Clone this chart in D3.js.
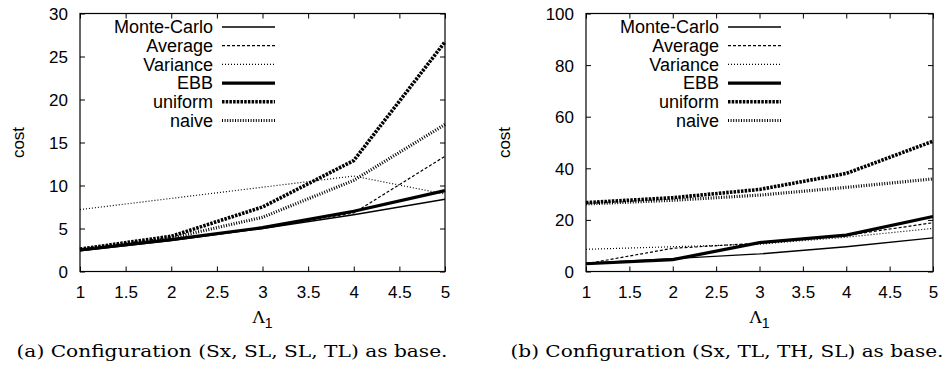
<!DOCTYPE html>
<html>
<head>
    <meta charset="UTF-8">
    <title>cost vs lambda</title>
    <script src="https://cdn.jsdelivr.net/npm/d3@7"></script>
    <style>
        body { margin: 0; background: #fff; }
    </style>
</head>
<body>
    <script>
        // data
        var lambda = [1, 2, 3, 4, 5]
        var xTicks = [1, 1.5, 2, 2.5, 3, 3.5, 4, 4.5, 5]
        var seriesNames = ['Monte-Carlo', 'Average', 'Variance', 'EBB', 'uniform', 'naive']

        // panel (a)
        var aMonteCarlo = [2.4, 3.6, 5.0, 6.6, 8.4]
        var aAverage    = [2.5, 3.7, 5.1, 6.8, 13.4]
        var aVariance   = [7.2, 8.5, 9.8, 11.1, 9.0]
        var aEBB        = [2.5, 3.7, 5.1, 7.0, 9.4]
        var aUniform    = [2.6, 4.1, 7.5, 12.9, 26.7]
        var aNaive      = [2.5, 3.9, 6.3, 10.6, 17.1]
        var aYTicks = [0, 5, 10, 15, 20, 25, 30]

        // panel (b)
        var bMonteCarlo = [3.2, 5.0, 6.8, 9.6, 13.0]
        var bAverage    = [3.0, 9.0, 11.0, 14.0, 18.9]
        var bVariance   = [8.6, 9.6, 10.6, 13.3, 16.7]
        var bEBB        = [3.0, 4.6, 11.2, 14.1, 21.3]
        var bUniform    = [26.7, 28.6, 31.8, 38.0, 50.5]
        var bNaive      = [26.2, 27.6, 29.6, 32.6, 35.9]
        var bYTicks = [0, 20, 40, 60, 80, 100]

        var styles = [
            { w: 1.3, dash: null },
            { w: 1.2, dash: '3,2' },
            { w: 1.2, dash: '1,2' },
            { w: 3.2, dash: null },
            { w: 3.6, dash: '2.5,1.2' },
            { w: 3.2, dash: '1,1.6' }
        ]

        var sans = '"Liberation Sans", Arial, sans-serif'
        var serif = '"DejaVu Serif", "Liberation Serif", serif'

        var svg = d3.select('body')
            .append('svg')
            .attr('width', 946)
            .attr('height', 366)
            .attr('font-family', sans)

        function panel(o) {
            var x = d3.scaleLinear().domain([1, 5]).range([o.left, o.right])
            var y = d3.scaleLinear().domain([0, o.ymax]).range([o.bottom, o.top])
            var g = svg.append('g')

            // mirror ticks, pointing inward
            g.append('g').attr('transform', 'translate(0,' + o.top + ')')
                .call(d3.axisTop(x).tickValues(xTicks).tickSize(-5).tickFormat(''))
            g.append('g').attr('transform', 'translate(' + o.right + ',0)')
                .call(d3.axisRight(y).tickValues(o.yTicks).tickSize(-5).tickFormat(''))

            var xa = g.append('g').attr('transform', 'translate(0,' + o.bottom + ')')
                .call(d3.axisBottom(x).tickValues(xTicks).tickSize(-5).tickPadding(14).tickFormat(d3.format('')))
            var ya = g.append('g').attr('transform', 'translate(' + o.left + ',0)')
                .call(d3.axisLeft(y).tickValues(o.yTicks).tickSize(-5).tickPadding(12))

            g.selectAll('.domain').remove()
            g.selectAll('.tick line').attr('stroke', '#000').attr('stroke-width', 1)
            g.selectAll('.tick text').attr('font-size', 17).attr('fill', '#000')
                .attr('font-family', sans)
            xa.selectAll('.tick text').attr('dy', '0.71em')
            ya.selectAll('.tick text').attr('dy', '0.35em')

            g.append('rect')
                .attr('x', o.left).attr('y', o.top)
                .attr('width', o.right - o.left).attr('height', o.bottom - o.top)
                .attr('fill', 'none').attr('stroke', '#000').attr('stroke-width', 1.2)

            var line = d3.line()
                .x(function(d, i){ return x(lambda[i]) })
                .y(function(d){ return y(d) })

            o.series.forEach(function(s, i){
                g.append('path')
                    .attr('d', line(s))
                    .attr('fill', 'none')
                    .attr('stroke', '#000')
                    .attr('stroke-width', styles[i].w)
                    .attr('stroke-dasharray', styles[i].dash)
            })

            // legend
            seriesNames.forEach(function(name, i){
                var ly = 27 + i * 18.7
                g.append('text')
                    .attr('x', o.legX).attr('y', ly)
                    .attr('dy', '0.35em')
                    .attr('text-anchor', 'end')
                    .attr('font-size', 18)
                    .text(name)
                g.append('line')
                    .attr('x1', o.legX + 9).attr('x2', o.legX + 62)
                    .attr('y1', ly).attr('y2', ly)
                    .attr('stroke', '#000')
                    .attr('stroke-width', styles[i].w)
                    .attr('stroke-dasharray', styles[i].dash)
            })

            g.append('text')
                .attr('transform', 'translate(' + o.costX + ',' + (o.top + o.bottom) / 2 + ') rotate(-90)')
                .attr('text-anchor', 'middle')
                .attr('font-size', 17)
                .text('cost')

            var lam = g.append('text')
                .attr('x', (o.left + o.right) / 2).attr('y', 323)
                .attr('text-anchor', 'middle')
            lam.append('tspan')
                .attr('font-family', serif)
                .attr('font-size', 17)
                .text('Λ')
            lam.append('tspan')
                .attr('font-size', 14)
                .attr('dy', 5)
                .text('1')

            g.append('text')
                .attr('x', o.capX).attr('y', 357)
                .attr('text-anchor', 'middle')
                .attr('font-family', serif)
                .attr('font-size', 17)
                .attr('textLength', o.capW)
                .attr('lengthAdjust', 'spacingAndGlyphs')
                .text(o.caption)
        }

        panel({
            left: 80, right: 445, top: 13.5, bottom: 271.5, ymax: 30,
            yTicks: aYTicks, legX: 213, costX: 24, capX: 232, capW: 431,
            series: [aMonteCarlo, aAverage, aVariance, aEBB, aUniform, aNaive],
            caption: '(a) Configuration (Sx, SL, SL, TL) as base.'
        })
        panel({
            left: 586, right: 933, top: 13.5, bottom: 271.5, ymax: 100,
            yTicks: bYTicks, legX: 719, costX: 510, capX: 727, capW: 433,
            series: [bMonteCarlo, bAverage, bVariance, bEBB, bUniform, bNaive],
            caption: '(b) Configuration (Sx, TL, TH, SL) as base.'
        })
    </script>
</body>
</html>
